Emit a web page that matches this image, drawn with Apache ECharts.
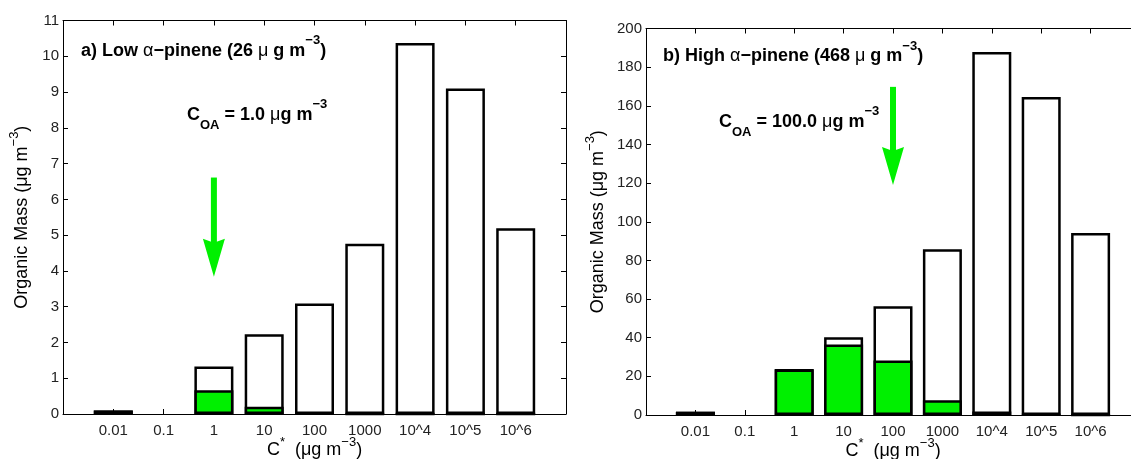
<!DOCTYPE html>
<html><head><meta charset="utf-8">
<script src="https://cdn.jsdelivr.net/npm/echarts@6/dist/echarts.min.js"></script>
<style>html,body{margin:0;padding:0;background:#fff}#c{width:1131px;height:459px}</style>
</head><body><div id="c"></div>
<script>
// ---- data ----
const categories = ['0.01', '0.1', '1', '10', '100', '1000', '10^4', '10^5', '10^6'];
const totalLow = [0.10, 0, 1.33, 2.23, 3.09, 4.76, 10.37, 9.10, 5.19];
const particleLow = [0.10, 0, 0.665, 0.20, 0.03, 0.005, 0.001, 0.0001, 0.00001];
const totalHigh = [1.7, 0, 23.8, 40.2, 56.3, 85.8, 187.9, 164.5, 94.2];
const particleHigh = [1.7, 0, 23.6, 36.5, 28.2, 7.6, 1.86, 0.16, 0.01];
const yMaxLow = 11, yStepLow = 1;
const yMaxHigh = 200, yStepHigh = 20;
// arrow: [category index, start value, tip value]
const arrowLow = [2, 6.61, 3.84];
const arrowHigh = [4, 169.8, 119];

const F = '"Liberation Sans", Arial, Helvetica, sans-serif';
const GREEN = '#00f000';
const INK = '#000';
const LBL = '#222';

function richSet(size, bold, lh, supLh) {
  const w = bold ? 'bold' : 'normal';
  return {
    b: {fontFamily: F, fontSize: size, fontWeight: w, color: INK, lineHeight: lh},
    g: {fontFamily: F, fontSize: size, fontWeight: 'normal', color: INK, lineHeight: lh},
    sup: {fontFamily: F, fontSize: Math.round(size * 0.7), fontWeight: w, color: INK, lineHeight: supLh, verticalAlign: 'top'},
    sub: {fontFamily: F, fontSize: Math.round(size * 0.7), fontWeight: w, color: INK, lineHeight: 12, verticalAlign: 'bottom'}
  };
}
const nameRich = richSet(18, false, 28, 14);
const noteRich = richSet(18, true, 34, 20);

function xAx(gi, pos, show, name, gap) {
  return {
    type: 'value', gridIndex: gi, position: pos, min: -1, max: categories.length, interval: 1,
    axisLine: {show: true, onZero: false, lineStyle: {color: INK, width: 1}},
    axisTick: {show: true, inside: true, length: 5, lineStyle: {color: INK, width: 1}},
    axisLabel: {show: show, margin: 9, fontSize: 15, fontFamily: F, color: LBL,
      formatter: v => (categories[v] !== undefined ? categories[v] : '')},
    splitLine: {show: false},
    name: name || '', nameLocation: 'middle', nameGap: gap || 0, nameMoveOverlap: false,
    nameTextStyle: {fontFamily: F, fontSize: 18, color: INK, rich: nameRich}
  };
}
function yAx(gi, pos, show, max, step, name, gap) {
  return {
    type: 'value', gridIndex: gi, position: pos, min: 0, max: max, interval: step,
    axisLine: {show: true, onZero: false, lineStyle: {color: INK, width: 1}},
    axisTick: {show: true, inside: true, length: 5, lineStyle: {color: INK, width: 1}},
    axisLabel: {show: show, margin: 4, fontSize: 15, fontFamily: F, color: LBL},
    splitLine: {show: false},
    name: name || '', nameLocation: 'middle', nameGap: gap || 0, nameRotate: 90, nameMoveOverlap: false,
    nameTextStyle: {fontFamily: F, fontSize: 18, color: INK, rich: nameRich}
  };
}

function bars(gi, vals, fill) {
  return {
    type: 'bar', xAxisIndex: gi * 2, yAxisIndex: gi * 2, barWidth: 39, barGap: '-100%',
    data: vals.map((v, i) => [i, v === 0 ? '-' : v]),
    itemStyle: {color: fill, borderColor: INK, borderWidth: 2.5},
    emphasis: {disabled: true}, silent: true
  };
}
function arrow(gi, a) {
  return {
    type: 'custom', xAxisIndex: gi * 2, yAxisIndex: gi * 2, silent: true,
    data: [a],
    renderItem: function (params, api) {
      const top = api.coord([api.value(0), api.value(1)]);
      const tip = api.coord([api.value(0), api.value(2)]);
      const hl = 38, hw = 22, notch = 4;
      return {type: 'group', children: [
        {type: 'line', shape: {x1: top[0], y1: top[1], x2: tip[0], y2: tip[1] - hl + notch + 2},
          style: {stroke: GREEN, lineWidth: 6}},
        {type: 'polygon', shape: {points: [[tip[0] - hw / 2, tip[1] - hl], [tip[0], tip[1] - hl + notch],
          [tip[0] + hw / 2, tip[1] - hl], [tip[0], tip[1]]]}, style: {fill: GREEN}}
      ]};
    }
  };
}

const yName = '{b|Organic Mass (μg m}{sup|−3}{b|)}';
const xName = '{b|C}{sup|*}{b|  (μg m}{sup|−3}{b|)}';

const option = {
  animation: false,
  backgroundColor: '#fff',
  grid: [
    {left: 63, top: 20.5, right: 565, bottom: 45, outerBoundsMode: 'none', containLabel: false},
    {left: 646, top: 28.5, right: -9, bottom: 44, outerBoundsMode: 'none', containLabel: false}
  ],
  title: [
    {text: '{b|a) Low }{g|α}{b|−pinene (26 }{g|μ}{b| g m}{sup|−3}{b|)}', left: 81, top: 34, padding: 0,
      textStyle: {rich: noteRich}},
    {text: '{b|C}{sub|OA}{b| = 1.0 }{g|μ}{b|g m}{sup|−3}', left: 187, top: 98, padding: 0,
      textStyle: {rich: noteRich}},
    {text: '{b|b) High }{g|α}{b|−pinene (468 }{g|μ}{b| g m}{sup|−3}{b|)}', left: 663, top: 39.5, padding: 0,
      textStyle: {rich: noteRich}},
    {text: '{b|C}{sub|OA}{b| = 100.0 }{g|μ}{b|g m}{sup|−3}', left: 719, top: 105, padding: 0,
      textStyle: {rich: noteRich}}
  ],
  xAxis: [
    xAx(0, 'bottom', true, xName, 22), xAx(0, 'top', false),
    xAx(1, 'bottom', true, xName, 22), xAx(1, 'top', false)
  ],
  yAxis: [
    yAx(0, 'left', true, yMaxLow, yStepLow, yName, 27), yAx(0, 'right', false, yMaxLow, yStepLow),
    yAx(1, 'left', true, yMaxHigh, yStepHigh, yName, 34), yAx(1, 'right', false, yMaxHigh, yStepHigh)
  ],
  series: [
    bars(0, totalLow, '#fff'), bars(0, particleLow, GREEN), arrow(0, arrowLow),
    bars(1, totalHigh, '#fff'), bars(1, particleHigh, GREEN), arrow(1, arrowHigh)
  ]
};
const chart = echarts.init(document.getElementById('c'), null, {renderer: 'canvas'});
chart.setOption(option);
</script>
</body></html>
